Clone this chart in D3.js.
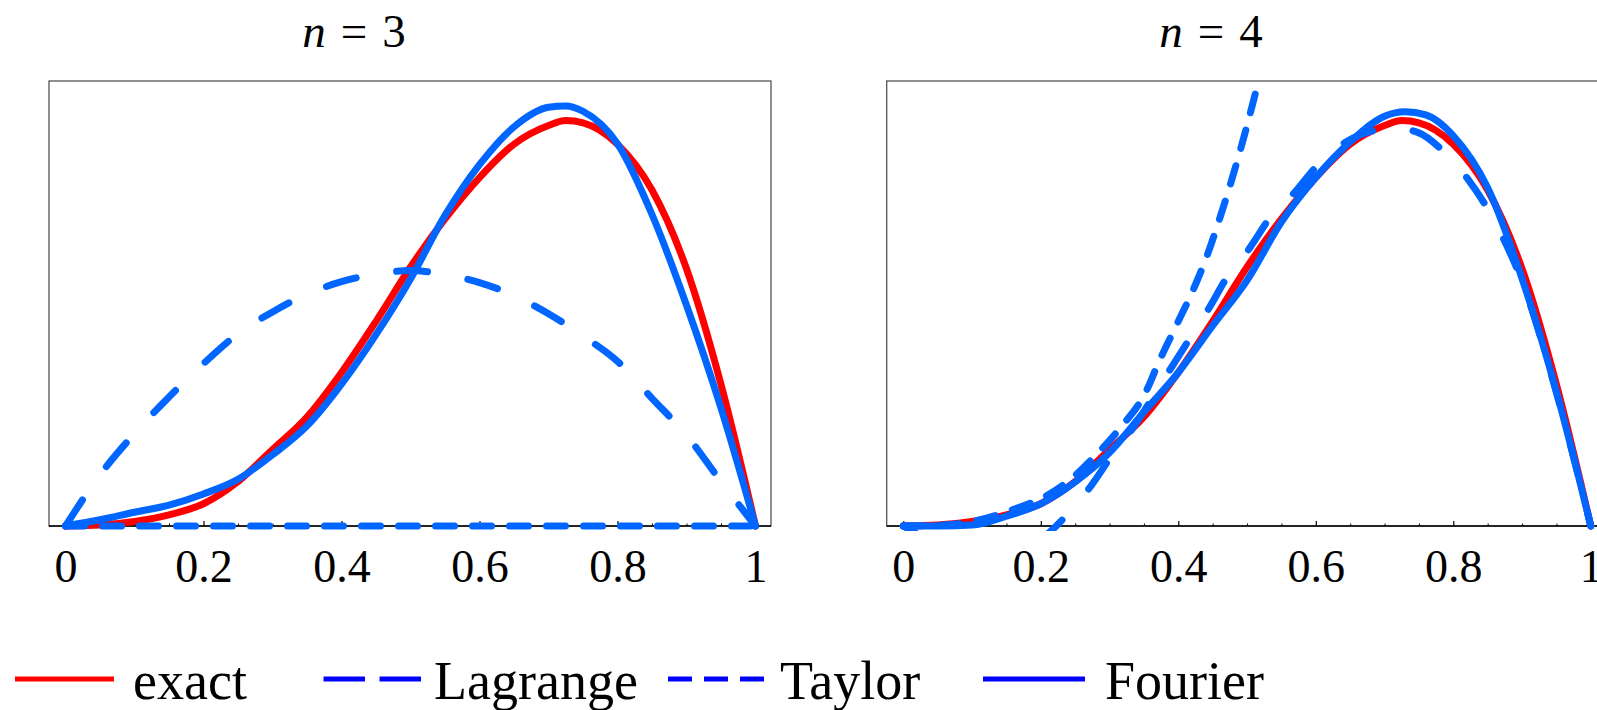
<!DOCTYPE html>
<html><head><meta charset="utf-8">
<script src="https://cdn.jsdelivr.net/npm/d3@7"></script>
<style>
body{margin:0;background:#fff;}
svg{display:block;font-family:"Liberation Serif","Times New Roman",serif;}
</style>
</head><body>
<svg id="c" width="1597" height="710"></svg>
<script>
// ---- data ----
const exactX = [0,0.05,0.1,0.15,0.2,0.25,0.3,0.35,0.4,0.45,0.5,0.55,0.6,0.65,0.7,0.725,0.75,0.8,0.85,0.9,0.95,1];
const exactY = [0,0.002,0.01,0.025,0.05,0.1,0.172,0.245,0.345,0.46,0.582,0.69,0.783,0.858,0.9,0.911,0.906,0.858,0.755,0.578,0.318,0];

const lagrange3X = [0,0.05,0.1,0.15,0.2,0.25,0.3,0.35,0.4,0.45,0.5,0.55,0.6,0.65,0.7,0.75,0.8,0.85,0.9,0.95,1];
const lagrange3Y = [0,0.115,0.208,0.29,0.365,0.432,0.481,0.521,0.549,0.566,0.574,0.565,0.547,0.518,0.477,0.427,0.37,0.287,0.204,0.1,0];
const taylor3X = [0,0.25,0.5,0.75,1];
const taylor3Y = [0,0,0,0,0];
const fourier3X = [0,0.05,0.1,0.15,0.2,0.25,0.3,0.35,0.4,0.45,0.5,0.55,0.6,0.65,0.7,0.725,0.75,0.8,0.85,0.9,0.95,1];
const fourier3Y = [0,0.014,0.031,0.047,0.072,0.105,0.16,0.225,0.319,0.43,0.555,0.698,0.812,0.897,0.941,0.944,0.932,0.859,0.70,0.496,0.265,0];

const lagrange4X = [0,0.05,0.1,0.15,0.2,0.238,0.272,0.301,0.334,0.375,0.417,0.446,0.47,0.504,0.533,0.57,0.601,0.645,0.689,0.713,0.749,0.788,0.822,0.851,0.876,0.9,0.95,1];
const lagrange4Y = [0,-0.04,-0.06,-0.06,-0.03,0.025,0.088,0.153,0.22,0.32,0.422,0.493,0.557,0.625,0.692,0.751,0.808,0.864,0.89,0.894,0.884,0.838,0.778,0.71,0.636,0.55,0.3,0];
const taylor4X = [0,0.061,0.109,0.165,0.206,0.248,0.283,0.317,0.352,0.373,0.4,0.42,0.44,0.46,0.48,0.5,0.52,0.54];
const taylor4Y = [0,0.002,0.013,0.04,0.066,0.111,0.164,0.223,0.299,0.373,0.46,0.525,0.6,0.69,0.79,0.9,1.02,1.14];
const fourier4X = [0,0.05,0.1,0.15,0.2,0.25,0.3,0.35,0.4,0.45,0.5,0.55,0.6,0.65,0.7,0.73,0.76,0.8,0.85,0.9,0.95,1];
const fourier4Y = [0,0,0.002,0.022,0.05,0.099,0.165,0.256,0.345,0.45,0.552,0.683,0.783,0.863,0.921,0.931,0.924,0.877,0.76,0.556,0.302,0];

const majorTicks = [0,0.2,0.4,0.6,0.8,1];
const minorTicks = [0.05,0.1,0.15,0.25,0.3,0.35,0.45,0.5,0.55,0.65,0.7,0.75,0.85,0.9,0.95];
const tickLabels = ["0","0.2","0.4","0.6","0.8","1"];
const titles = ["3","4"];
const legendNames = ["exact","Lagrange","Taylor","Fourier"];

// ---- drawing ----
const svg = d3.select("#c");
const zip = (a,b) => a.map((v,i)=>[v,b[i]]);
const y = d3.scaleLinear().domain([0,1]).range([526,81]);
const RED = "#ff0000", BLUE = "#0066ff", LEGBLUE = "#0000ff";

const panels = [
  {frame:[49,771], range:[65.5,755.5], titleX:354, title:titles[0],
   lag:zip(lagrange3X,lagrange3Y), tay:zip(taylor3X,taylor3Y), fou:zip(fourier3X,fourier3Y)},
  {frame:[886.7,1615], range:[903.3,1590.8], titleX:1211, title:titles[1],
   lag:zip(lagrange4X,lagrange4Y), tay:zip(taylor4X,taylor4Y), fou:zip(fourier4X,fourier4Y)}
];
const exact = zip(exactX, exactY);

const defs = svg.append("defs");
panels.forEach((p,i)=>{
  const x = d3.scaleLinear().domain([0,1]).range(p.range);
  const g = svg.append("g");
  defs.append("clipPath").attr("id","clip"+i).append("rect")
    .attr("x",p.frame[0]).attr("y",y(1)).attr("width",p.frame[1]-p.frame[0]).attr("height",y(0)-y(1)+5);

  // frame
  g.append("rect").attr("x",p.frame[0]).attr("y",y(1))
    .attr("width",p.frame[1]-p.frame[0]).attr("height",y(0)-y(1))
    .attr("fill","none").attr("stroke","#555").attr("stroke-width",1.3);
  g.append("line").attr("x1",p.frame[0]).attr("x2",p.frame[1]).attr("y1",y(0)).attr("y2",y(0))
    .attr("stroke","#000").attr("stroke-width",1.5);

  // axes
  const major = g.append("g").attr("transform",`translate(0,${y(0)})`)
    .call(d3.axisBottom(x).tickValues(majorTicks).tickSizeInner(-5).tickSizeOuter(0)
      .tickFormat((d,k)=>tickLabels[k]));
  major.select(".domain").remove();
  major.selectAll("line").attr("stroke","#000").attr("stroke-width",1.2);
  major.selectAll("text").attr("y",56).attr("dy",0).attr("font-size",46)
    .attr("font-family","'Liberation Serif',serif").attr("fill","#000");
  const minor = g.append("g").attr("transform",`translate(0,${y(0)})`)
    .call(d3.axisBottom(x).tickValues(minorTicks).tickSizeInner(-2.5).tickSizeOuter(0).tickFormat(""));
  minor.select(".domain").remove();
  minor.selectAll("line").attr("stroke","#000").attr("stroke-width",1);

  // title
  const t = svg.append("text").attr("x",p.titleX).attr("y",47).attr("text-anchor","middle")
    .attr("font-size",47).attr("fill","#000");
  t.append("tspan").attr("font-style","italic").text("n");
  t.append("tspan").attr("dx",15).text("=");
  t.append("tspan").attr("dx",15).text(p.title);

  // curves
  const line = d3.line().x(d=>x(d[0])).y(d=>y(d[1])).curve(d3.curveMonotoneX);
  const cg = g.append("g").attr("clip-path",`url(#clip${i})`)
    .attr("fill","none").attr("stroke-width",7).attr("stroke-linecap","round").attr("stroke-linejoin","round");
  cg.append("path").attr("d",line(exact)).attr("stroke",RED);
  cg.append("path").attr("d",line(p.lag)).attr("stroke",BLUE).attr("stroke-dasharray","31,41");
  cg.append("path").attr("d",line(p.tay)).attr("stroke",BLUE).attr("stroke-dasharray","19,18");
  cg.append("path").attr("d",line(p.fou)).attr("stroke",BLUE);
});

// legend
const legend = [
  {x1:15, x2:114, tx:133, color:RED, dash:null},
  {x1:323.5, x2:423.5, tx:434, color:LEGBLUE, dash:"41.5,14.5"},
  {x1:668, x2:765, tx:780, color:LEGBLUE, dash:"24,12"},
  {x1:983, x2:1085, tx:1105, color:LEGBLUE, dash:null}
];
const lg = svg.append("g");
legend.forEach((d,i)=>{
  lg.append("line").attr("x1",d.x1).attr("x2",d.x2).attr("y1",679).attr("y2",679)
    .attr("stroke",d.color).attr("stroke-width",5).attr("stroke-dasharray",d.dash);
  lg.append("text").attr("x",d.tx).attr("y",699).attr("font-size",54).attr("fill","#000").text(legendNames[i]);
});
</script>
</body></html>
